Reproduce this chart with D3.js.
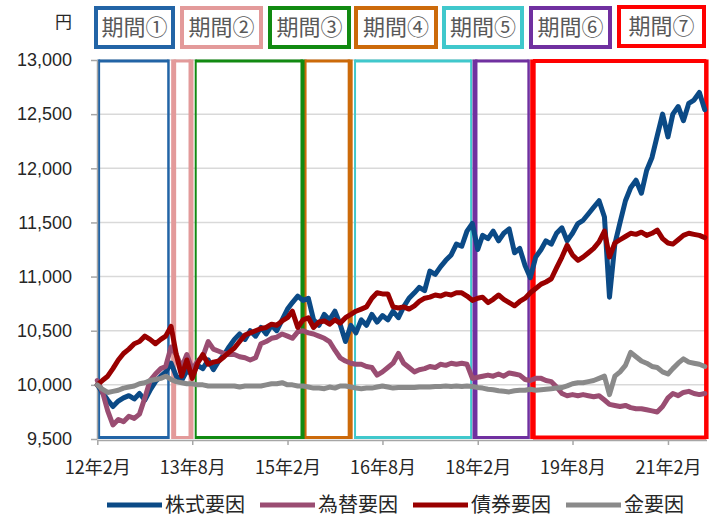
<!DOCTYPE html>
<html>
<head>
<meta charset="utf-8">
<title>要因別推移</title>
<style>
  body{margin:0;background:#fff;}
  svg text{font-family:"Noto Sans CJK JP","Noto Sans",sans-serif;}
  .num text{font-family:"Liberation Sans",Arial,sans-serif;}
</style>
</head>
<body>
<div id="chart"></div>
<script src="https://cdn.jsdelivr.net/npm/d3@7/dist/d3.min.js"></script>
<script>

// monthly values, Feb 2012 .. Sep 2021 (116 months)
var seriesNames = ['株式要因','為替要因','債券要因','金要因'];

var stock = [10000,9930,9860,9800,9850,9880,9900,9870,9920,9860,9950,10030,
  10080,10120,10200,10080,10040,10130,10100,10180,10150,10230,10140,10220,
  10280,10350,10420,10470,10420,10500,10450,10530,10470,10550,10500,10600,
  10700,10760,10820,10780,10800,10600,10550,10650,10600,10680,10560,10400,
  10550,10480,10600,10550,10650,10580,10640,10600,10680,10620,10720,10800,
  10850,10900,10870,11050,11020,11090,11150,11200,11300,11280,11420,11490,
  11250,11380,11350,11420,11330,11400,11440,11220,11260,11100,10990,11180,
  11250,11330,11300,11400,11450,11330,11400,11490,11520,11580,11640,11700,
  11550,10810,11300,11500,11700,11820,11890,11770,11980,12100,12300,12500,
  12290,12500,12570,12440,12600,12630,12700,12540];

var fx = [10040,9940,9760,9630,9680,9660,9710,9690,9730,9880,10040,10100,
  10150,10170,10350,10280,10160,10280,10140,10220,10260,10400,10330,10310,
  10290,10280,10280,10260,10250,10230,10250,10380,10400,10430,10440,10470,
  10450,10430,10490,10500,10480,10470,10450,10430,10400,10320,10250,10220,
  10200,10190,10190,10170,10160,10090,10120,10160,10200,10290,10200,10160,
  10120,10140,10150,10170,10160,10190,10180,10200,10190,10200,10190,10060,
  10070,10080,10090,10080,10100,10080,10110,10100,10090,10050,10040,10060,
  10060,10040,10030,9980,9920,9900,9910,9900,9910,9900,9890,9900,
  9860,9820,9810,9800,9810,9790,9780,9780,9770,9760,9750,9800,
  9880,9920,9900,9930,9940,9920,9910,9920];

var bond = [10000,10040,10080,10150,10230,10290,10330,10380,10400,10450,10420,10380,
  10420,10450,10540,10280,10080,10230,10060,10200,10280,10190,10210,10220,
  10260,10300,10340,10400,10460,10480,10500,10520,10530,10560,10550,10590,
  10620,10680,10530,10600,10620,10530,10580,10590,10560,10600,10570,10620,
  10650,10680,10700,10720,10800,10850,10840,10840,10720,10710,10720,10700,
  10730,10770,10800,10810,10830,10820,10840,10830,10850,10850,10820,10780,
  10800,10810,10760,10790,10830,10790,10760,10730,10770,10800,10850,10890,
  10930,10950,10980,11080,11180,11290,11200,11150,11180,11220,11260,11320,
  11420,11180,11310,11340,11370,11400,11390,11410,11380,11400,11430,11350,
  11310,11300,11340,11380,11400,11390,11380,11360];

var gold = [10000,9960,9930,9940,9950,9970,9980,9990,10010,10020,10040,10050,
  10060,10080,10050,10030,10020,10010,10010,10000,10000,9990,9990,9990,
  9990,9990,9990,9980,9990,9990,9990,9990,10000,10010,10010,10020,
  10000,10000,9990,9990,9980,9970,9970,9965,9980,9970,9990,9990,
  9980,9970,9965,9970,9970,9980,9990,9980,9970,9975,9975,9975,
  9975,9980,9980,9980,9985,9985,9990,9985,9990,9985,9990,9985,
  9975,9970,9960,9955,9945,9940,9935,9945,9950,9950,9960,9950,
  9955,9960,9965,9970,9975,9990,10010,10020,10020,10030,10040,10060,
  10080,9910,10080,10120,10180,10300,10260,10220,10200,10170,10160,10120,
  10100,10150,10200,10240,10210,10200,10190,10170];

var yTicks = [9500,10000,10500,11000,11500,12000,12500,13000];
var tickDates = ['2012-02','2013-08','2015-02','2016-08','2018-02','2019-08','2021-02'];
var tickLabels = ['12年2月','13年8月','15年2月','16年8月','18年2月','19年8月','21年2月'];

var periodLabels = ['期間①','期間②','期間③','期間④','期間⑤','期間⑥','期間⑦'];
var periodStart = ['2012-02-10','2013-04-16','2013-08-21','2015-05-16','2016-02-25','2018-01-16','2018-12-16'];
var periodEnd   = ['2013-03-17','2013-07-25','2015-05-01','2016-01-28','2017-12-25','2018-11-21','2021-09-10'];

// styles
var seriesColors = ['#0b4a86','#9a4d72','#990000','#8a8a8a'];
var periodColors = ['#2264a6','#e39a9a','#118a11','#cc6a0a','#40c8cc','#7030a0','#ff0000'];
var periodLeftW  = [2.5,5,2,2,2,5,5.5];
var periodRightW = [2.5,5,5,5,2,2.5,4.5];
var headerX = [94,180,268,354,442,529,617];
var headerW = [81,83,83,84,82,83,89];

var W = 713, H = 517;
var svg = d3.select('#chart').append('svg').attr('width',W).attr('height',H);

var parseM = d3.timeParse('%Y-%m'), parseD = d3.timeParse('%Y-%m-%d');
var months = d3.timeMonth.range(new Date(2012,1,1), new Date(2021,9,1));

var x = d3.scaleTime().domain([new Date(2012,1,1), new Date(2021,8,11)]).range([97.3,706.5]),
    y = d3.scaleLinear().domain([9500,13000]).range([439,60]);

// gridlines
svg.append('g').selectAll('line').data(yTicks.slice(1)).enter().append('line')
  .attr('x1',97).attr('x2',706.5)
  .attr('y1',function(d){return y(d);}).attr('y2',function(d){return y(d);})
  .style('stroke','#d9d9d9').style('stroke-width',1.5);

// period boxes
var boxes = svg.append('g');
periodLabels.forEach(function(p,i){
  var x0 = x(parseD(periodStart[i])), x1 = x(parseD(periodEnd[i])), c = periodColors[i];
  var tw = i == 6 ? 4 : 3;
  boxes.append('line').attr('x1',x0).attr('x2',x1).attr('y1',61).attr('y2',61).style('stroke',c).style('stroke-width',tw);
  boxes.append('line').attr('x1',x0).attr('x2',x1).attr('y1',437.5).attr('y2',437.5).style('stroke',c).style('stroke-width',tw);
  boxes.append('line').attr('x1',x0).attr('x2',x0).attr('y1',59.5).attr('y2',439).style('stroke',c).style('stroke-width',periodLeftW[i]);
  boxes.append('line').attr('x1',x1).attr('x2',x1).attr('y1',59.5).attr('y2',439).style('stroke',c).style('stroke-width',periodRightW[i]);
});

// axes
var yAxis = svg.append('g').attr('class','num').attr('transform','translate(97,0)')
  .call(d3.axisLeft(y).tickValues(yTicks).tickSizeInner(6).tickSizeOuter(0).tickPadding(19).tickFormat(d3.format(',')));
yAxis.selectAll('text').style('font-size','18px').style('fill','#262626');

var xAxis = svg.append('g').attr('transform','translate(0,440)')
  .call(d3.axisBottom(x).tickValues(tickDates.map(parseM)).tickSizeInner(5).tickSizeOuter(0).tickPadding(16)
    .tickFormat(function(d,i){return tickLabels[i];}));
xAxis.selectAll('text').style('font-size','18px').style('fill','#262626');

[yAxis, xAxis].forEach(function(a){
  a.select('.domain').style('stroke','#a6a6a6').style('stroke-width',1.5);
  a.selectAll('.tick line').style('stroke','#a6a6a6').style('stroke-width',1.5);
});

// lines
var line = d3.line().x(function(d,i){return x(months[i]);}).y(function(d){return y(d);});
[stock, fx, bond, gold].forEach(function(s,i){
  svg.append('path').datum(s).attr('d',line)
    .style('fill','none').style('stroke',seriesColors[i]).style('stroke-width',5)
    .style('stroke-linejoin','round').style('stroke-linecap','round');
});

// unit
svg.append('text').attr('x',72).attr('y',22).attr('dy','.35em').attr('text-anchor','end')
  .style('font-size','17px').style('fill','#262626').text('円');

// header boxes
var head = svg.append('g').selectAll('g').data(periodLabels).enter().append('g');
head.append('rect')
  .attr('x',function(d,i){return headerX[i]+2;}).attr('y',function(d,i){return i==6?7:8;})
  .attr('width',function(d,i){return headerW[i]-4;}).attr('height',39)
  .style('fill','#fff').style('stroke',function(d,i){return periodColors[i];}).style('stroke-width',4);
head.append('text')
  .attr('x',function(d,i){return headerX[i]+headerW[i]/2;}).attr('y',function(d,i){return i==6?26.5:27.5;})
  .attr('dy','.35em').attr('text-anchor','middle')
  .style('font-size','22px').style('fill','#595959').text(function(d){return d;});

// legend
var leg = svg.append('g').selectAll('g').data(seriesNames).enter().append('g')
  .attr('transform',function(d,i){return 'translate('+(107+i*153)+',505)';});
leg.append('line').attr('x1',0).attr('x2',55)
  .style('stroke',function(d,i){return seriesColors[i];}).style('stroke-width',5);
leg.append('text').attr('x',58).attr('y',0).attr('dy','.35em').style('font-size','20px').style('fill','#262626')
  .text(function(d){return d;});

</script>
</body>
</html>
